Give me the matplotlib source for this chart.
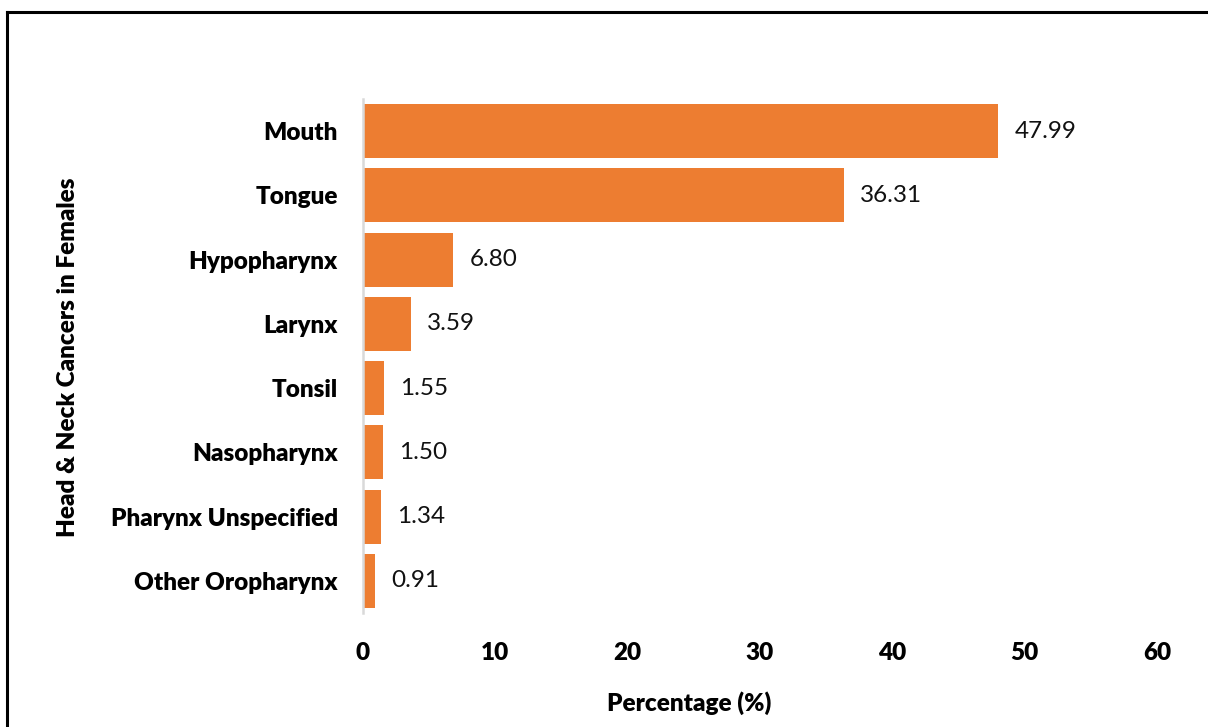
import matplotlib.pyplot as plt
from matplotlib.lines import Line2D

categories = ["Mouth", "Tongue", "Hypopharynx", "Larynx", "Tonsil",
              "Nasopharynx", "Pharynx Unspecified", "Other Oropharynx"]
values = [47.99, 36.31, 6.80, 3.59, 1.55, 1.50, 1.34, 0.91]
xticks = [0, 10, 20, 30, 40, 50, 60]

plt.rcParams["font.family"] = ["Lato", "DejaVu Sans"]
FS = 17.5
BOLD = 800

W, H = 1208, 727
fig = plt.figure(figsize=(W / 100, H / 100), dpi=100)
fig.patch.set_facecolor("white")
ax = fig.add_axes([363 / W, 1 - 613 / H, (1157 - 363) / W, (613 - 99) / H])

ypos = list(range(len(categories)))
ax.barh(ypos, values, height=0.84, color="#ED7D31")
for y, v in zip(ypos, values):
    ax.annotate(f"{v:.2f}", (v, y), xytext=(12, 0), textcoords="offset points",
                va="center", ha="left", fontsize=FS, color="#111111")

ax.set_xlim(0, 60)
ax.set_ylim(len(categories) - 0.5, -0.5)
ax.set_yticks(ypos)
ax.set_yticklabels(categories, fontsize=FS, fontweight=BOLD)
ax.set_xticks(xticks)
ax.set_xticklabels([str(t) for t in xticks], fontsize=FS, fontweight=BOLD)
ax.tick_params(axis="y", length=0, pad=18)
ax.tick_params(axis="x", length=0, pad=21)
for s in ["top", "right", "bottom"]:
    ax.spines[s].set_visible(False)
ax.spines["left"].set_color("#D9D9D9")
ax.spines["left"].set_linewidth(1.8)

fig.text(689 / W, 1 - 703 / H, "Percentage (%)", ha="center", va="center",
         fontsize=FS, fontweight=BOLD)
fig.text(68 / W, 1 - 357 / H, "Head & Neck Cancers in Females", ha="center",
         va="center", rotation=90, fontsize=FS, fontweight=BOLD)

# outer frame (left and top edges visible)
fig.add_artist(Line2D([6.5 / W, 6.5 / W], [0, 1 - 11.5 / H], color="black",
                      lw=2.2, transform=fig.transFigure))
fig.add_artist(Line2D([6.5 / W, 1], [1 - 11.5 / H, 1 - 11.5 / H], color="black",
                      lw=2.2, transform=fig.transFigure))

fig.savefig("out.png", dpi=100, facecolor="white")
